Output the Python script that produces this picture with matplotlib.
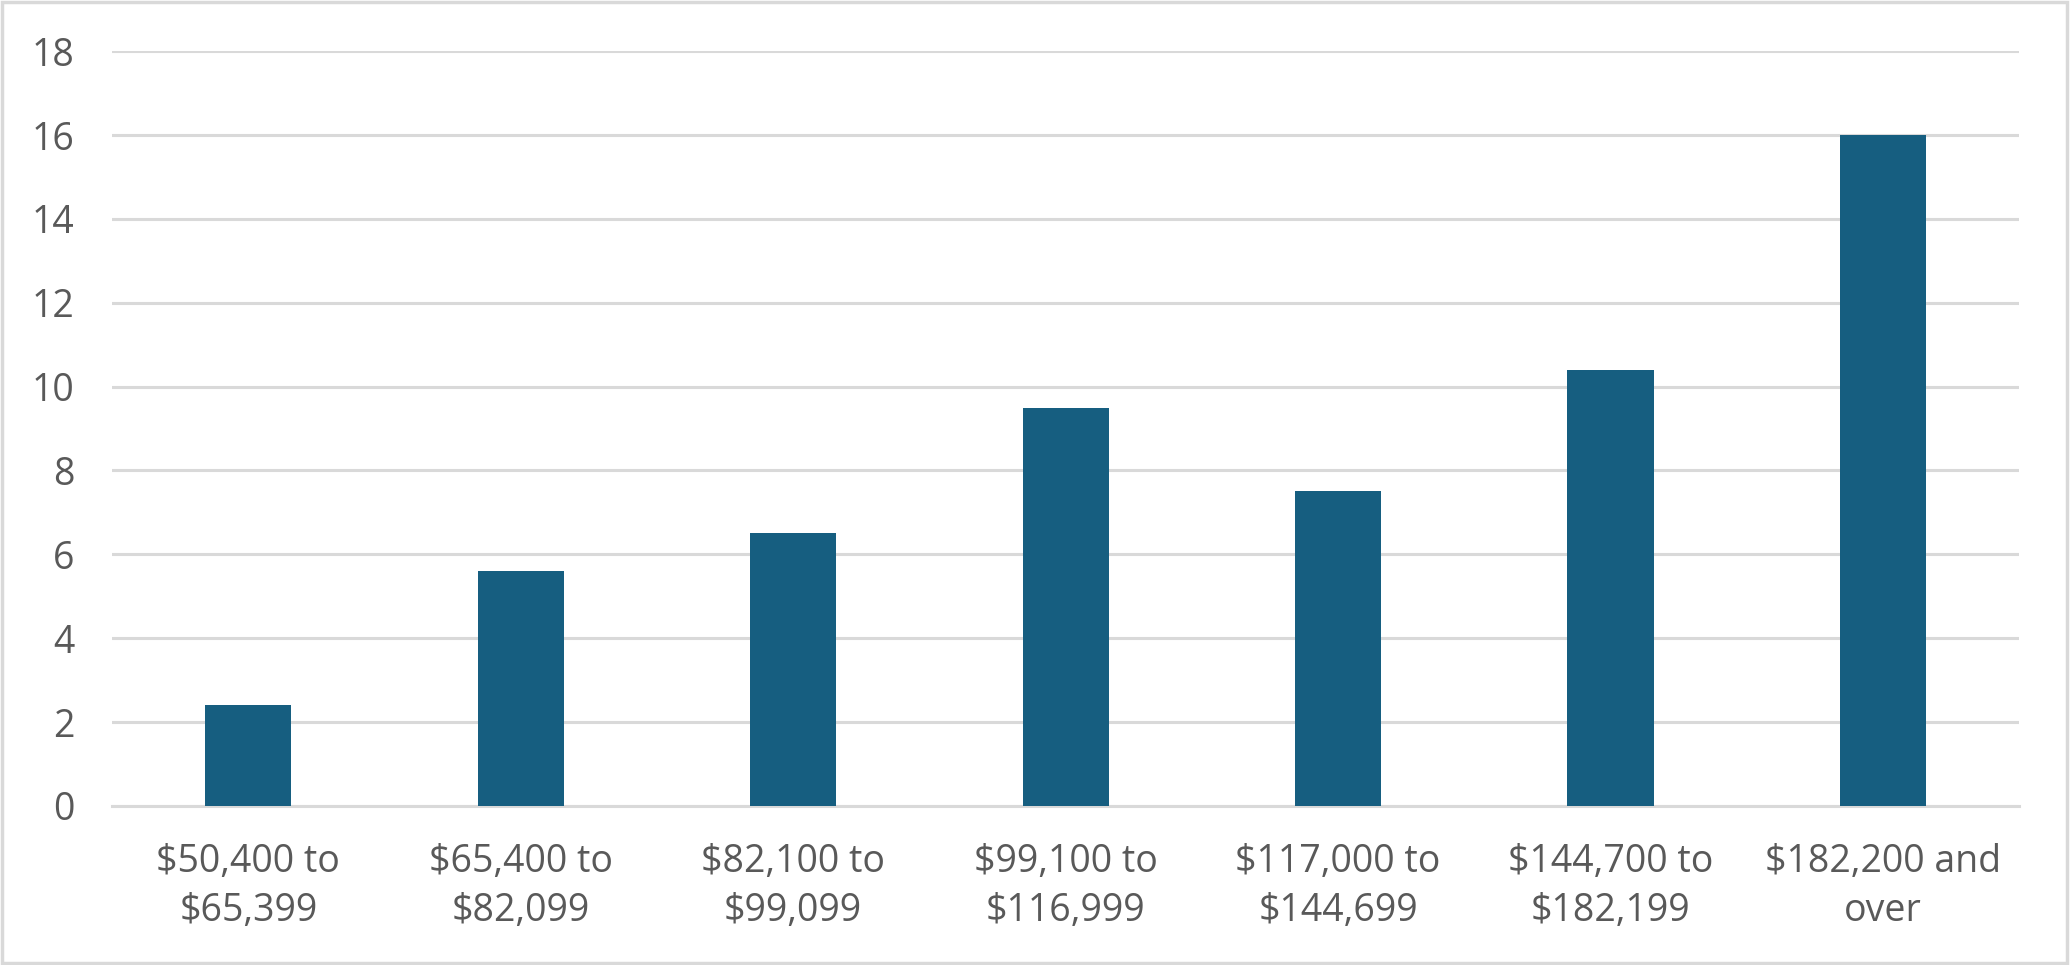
from matplotlib import pyplot as plt
from matplotlib.patches import Rectangle

# income brackets and values
categories = ['$50,400 to\n$65,399', '$65,400 to\n$82,099', '$82,100 to\n$99,099',
              '$99,100 to\n$116,999', '$117,000 to\n$144,699', '$144,700 to\n$182,199',
              '$182,200 and\nover']
values = [2.4, 5.6, 6.5, 9.5, 7.5, 10.4, 16.0]
yticks = [0, 2, 4, 6, 8, 10, 12, 14, 16, 18]

plt.rcParams['font.family'] = ['Open Sans', 'DejaVu Sans']

fig = plt.figure(figsize=(20.71, 9.65), dpi=100)
ax = fig.add_axes([0.0541, 0.1648, 0.9209, 0.7822])

x = range(len(categories))
ax.bar(x, values, width=0.316, color='#165E80', zorder=3)

ax.set_xlim(-0.5, len(categories) - 0.5)
ax.set_ylim(0, 18)
ax.set_yticks(yticks)
ax.set_xticks(list(x))
ax.set_xticklabels(categories, linespacing=1.38)

ax.grid(axis='y', color='#D9D9D9', linewidth=2.2, zorder=0)
for s in ['top', 'right', 'left']:
    ax.spines[s].set_visible(False)
ax.spines['bottom'].set_color('#D9D9D9')
ax.spines['bottom'].set_linewidth(2.2)

ax.tick_params(axis='both', length=0, labelsize=27, labelcolor='#595959')
ax.tick_params(axis='y', pad=27)
ax.tick_params(axis='x', pad=27)

# light border round the whole picture
fig.patches.append(Rectangle((0.001, 0.002), 0.997, 0.996, transform=fig.transFigure,
                             fill=False, edgecolor='#D9D9D9', linewidth=2.5))

fig.savefig('out.png', dpi=100)
